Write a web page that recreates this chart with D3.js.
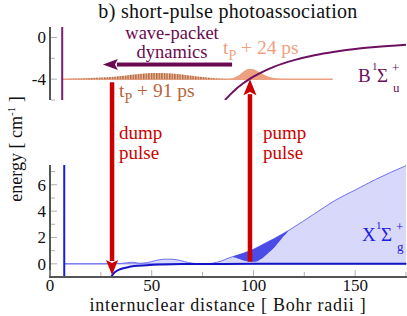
<!DOCTYPE html>
<html lang="en">
<head>
    <meta charset="UTF-8">
    <title>short-pulse photoassociation</title>
    <script src="https://d3js.org/d3.v7.min.js"></script>
</head>
<style>
    body {
        margin: 0;
        padding: 0;
        background: #fff;
    }

    svg {
        display: block;
        font-family: "Liberation Serif", "DejaVu Serif", serif;
    }

    .axis-line {
        stroke: #555;
        stroke-width: 2px;
        fill: none;
    }

    .tick-mark {
        stroke: #b0b0b0;
        stroke-width: 1px;
    }
</style>
<body>
<div class="chart"></div>
<script>
  /** DATA: distance in Bohr radii, energy in cm^-1 */
  var xMajorTicks = [0, 50, 100, 150];
  var xMinorTicks = [25, 75, 125, 175];
  var topMajorTicks = [0, -4];
  var topMinorTicks = [-2, -6];
  var bottomMajorTicks = [0, 2, 4, 6];
  var bottomMinorTicks = [1, 3, 5, 7];

  // B state potential (upper panel)
  var excitedPotential = [[86, -6], [88, -5.6], [90, -5.2], [95, -4.4], [98, -4.0], [100, -3.76],
    [105, -3.25], [110, -2.82], [120, -2.18], [130, -1.71], [140, -1.37], [150, -1.11],
    [160, -0.92], [175, -0.7]];
  var excitedWallR = 6;
  var packetLevel = -4;
  var packetLineEnd = 139;

  // packet at t_P + 24 ps (energy above the -4 level)
  var packet24 = [[86, 0], [90, 0.12], [93, 0.4], [96, 0.85], [98, 1.0], [100, 0.95], [103, 0.65],
    [106, 0.35], [110, 0.12], [115, 0.02], [120, 0]];
  // envelope of the fast oscillating packet at t_P + 91 ps
  var packet91 = [[6, 0], [15, 0.05], [25, 0.15], [30, 0.2], [35, 0.3], [40, 0.42], [45, 0.52],
    [50, 0.58], [55, 0.6], [60, 0.55], [65, 0.45], [70, 0.32], [75, 0.2], [80, 0.1],
    [85, 0.03], [88, 0]];

  // X state (lower panel)
  var groundWallR = 7;
  var groundPotential = [[30, -1], [31, -0.78], [32, -0.62], [34, -0.44], [36, -0.33], [39, -0.23],
    [43, -0.15], [49, -0.08], [55, -0.05], [65, -0.02], [80, -0.01], [100, 0], [175, 0]];
  // thin outline of the light shaded region
  var groundOutline = [[7, 0], [30, 0], [32, 0.08], [34, 0.02], [36, 0.05], [38, 0.08], [41, 0.12],
    [44, 0.04], [48, 0.1], [52, 0.25], [56, 0.35], [60, 0.35], [64, 0.25], [68, 0.1], [72, 0.02],
    [76, 0], [80, 0.05], [84, 0.2], [88, 0.45], [90, 0.55], [95, 0.8], [100, 1.1], [105, 1.5],
    [110, 1.9], [118, 2.6], [130, 3.8], [140, 4.8], [150, 5.6], [160, 6.4], [175, 7.45]];
  // dark lobe: upper edge follows the outline, lower edge dips under the pump arrow
  var lobeUpper = [[90, 0.55], [95, 0.8], [100, 1.1], [105, 1.5], [110, 1.9], [117, 2.5]];
  var lobeLower = [[90, 0.55], [92, 0.42], [95, 0.26], [98, 0.16], [100, 0.15], [102, 0.2],
    [105, 0.5], [110, 1.2], [114, 1.95], [117, 2.5]];

  // arrows: R and energy of start and end
  var dumpR = 30.5, dumpFrom = -4.3, dumpTo = -0.85;
  var pumpR = 98.3, pumpFrom = 0.17, pumpTo = -4;
  var dynamicsFrom = 89.5, dynamicsTo = 26, dynamicsE = -2.6;

  /** LAYOUT */
  var width = 407, height = 316;
  var svg = d3.select('.chart').append('svg')
    .attr('width', width)
    .attr('height', height);

  var x = d3.scaleLinear().domain([0, 175]).range([50, 406]);
  var yTop = d3.scaleLinear().domain([-6, 1]).range([100, 27]);
  var yBot = d3.scaleLinear().domain([-1, 7.5]).range([277, 165]);

  var defs = svg.append('defs');
  defs.append('clipPath').attr('id', 'clipTop')
    .append('rect').attr('x', 50).attr('y', 27).attr('width', 357).attr('height', 73);
  defs.append('clipPath').attr('id', 'clipBot')
    .append('rect').attr('x', 50).attr('y', 165).attr('width', 357).attr('height', 112);
  var stripes = defs.append('pattern').attr('id', 'stripes')
    .attr('patternUnits', 'userSpaceOnUse').attr('width', 2.6).attr('height', 10);
  stripes.append('rect').attr('width', 2.6).attr('height', 10).attr('fill', '#e9c3ad');
  stripes.append('rect').attr('width', 1.4).attr('height', 10).attr('fill', '#b5653a');

  var lineOf = function (yScale, curve) {
    return d3.line().curve(curve)
      .x(function (d) { return x(d[0]); })
      .y(function (d) { return yScale(d[1]); });
  };

  /** TOP PANEL */
  var topG = svg.append('g').attr('clip-path', 'url(#clipTop)');

  topG.append('line')
    .attr('x1', x(excitedWallR)).attr('x2', x(packetLineEnd))
    .attr('y1', yTop(packetLevel)).attr('y2', yTop(packetLevel))
    .attr('stroke', '#eba283').attr('stroke-width', 1.5);

  var packetArea = d3.area().curve(d3.curveMonotoneX)
    .x(function (d) { return x(d[0]); })
    .y0(yTop(packetLevel))
    .y1(function (d) { return yTop(packetLevel + d[1]); });

  topG.append('path').datum(packet91)
    .attr('d', packetArea)
    .attr('fill', 'url(#stripes)');

  topG.append('path').datum(packet24)
    .attr('d', packetArea)
    .attr('fill', '#eda080');

  topG.append('line')
    .attr('x1', x(excitedWallR)).attr('x2', x(excitedWallR))
    .attr('y1', 27).attr('y2', 100)
    .attr('stroke', '#7d1d6d').attr('stroke-width', 2);

  topG.append('path').datum(excitedPotential)
    .attr('d', lineOf(yTop, d3.curveMonotoneX))
    .attr('fill', 'none').attr('stroke', '#6e1060').attr('stroke-width', 2);

  /** BOTTOM PANEL */
  var botG = svg.append('g').attr('clip-path', 'url(#clipBot)');

  botG.append('path').datum(groundOutline)
    .attr('d', d3.area().curve(d3.curveMonotoneX)
      .x(function (d) { return x(d[0]); })
      .y0(yBot(0))
      .y1(function (d) { return yBot(d[1]); }))
    .attr('fill', '#d8d8fa');

  botG.append('line')
    .attr('x1', x(groundWallR)).attr('x2', 407)
    .attr('y1', yBot(0)).attr('y2', yBot(0))
    .attr('stroke', '#7a7af0').attr('stroke-width', 1);

  botG.append('path').datum(groundOutline)
    .attr('d', lineOf(yBot, d3.curveMonotoneX))
    .attr('fill', 'none').attr('stroke', '#7070f0').attr('stroke-width', 1);

  var lobe = lobeUpper.concat(lobeLower.slice(1, -1).reverse());
  botG.append('path').datum(lobe)
    .attr('d', lineOf(yBot, d3.curveCardinalClosed.tension(0.3)))
    .attr('fill', '#4b4be6');

  botG.append('path').datum(groundPotential)
    .attr('d', lineOf(yBot, d3.curveMonotoneX))
    .attr('fill', 'none').attr('stroke', '#1515c8').attr('stroke-width', 2);

  botG.append('line')
    .attr('x1', x(groundWallR)).attr('x2', x(groundWallR))
    .attr('y1', 165).attr('y2', 277)
    .attr('stroke', '#1a1ae6').attr('stroke-width', 2);

  /** AXES */
  function drawYAxis(scale, major, minor, y0, y1) {
    minor.forEach(function (t) {
      svg.append('line').classed('tick-mark', true)
        .attr('x1', 51).attr('x2', 55).attr('y1', scale(t)).attr('y2', scale(t));
    });
    major.forEach(function (t) {
      svg.append('line').classed('tick-mark', true)
        .attr('x1', 51).attr('x2', 57).attr('y1', scale(t)).attr('y2', scale(t));
      svg.append('text')
        .attr('x', 46).attr('y', scale(t)).attr('dy', '0.35em')
        .attr('text-anchor', 'end').attr('font-size', 17).attr('fill', '#111')
        .text(t);
    });
    svg.append('line').classed('axis-line', true)
      .attr('x1', 50).attr('x2', 50).attr('y1', y0).attr('y2', y1);
  }
  drawYAxis(yTop, topMajorTicks, topMinorTicks, 27, 100);
  drawYAxis(yBot, bottomMajorTicks, bottomMinorTicks, 165, 278);

  xMinorTicks.forEach(function (t) {
    svg.append('line').classed('tick-mark', true)
      .attr('x1', x(t)).attr('x2', x(t)).attr('y1', 276).attr('y2', 272);
  });
  xMajorTicks.forEach(function (t) {
    svg.append('line').classed('tick-mark', true)
      .attr('x1', x(t)).attr('x2', x(t)).attr('y1', 276).attr('y2', 270);
    svg.append('text')
      .attr('x', x(t)).attr('y', 291)
      .attr('text-anchor', 'middle').attr('font-size', 17).attr('fill', '#111')
      .text(t);
  });
  svg.append('line').classed('axis-line', true)
    .attr('x1', 49).attr('x2', 407).attr('y1', 277).attr('y2', 277);

  /** ARROWS */
  function arrow(x1, y1, x2, y2, color, bar, headW, headL) {
    var angle = Math.atan2(y2 - y1, x2 - x1);
    var len = Math.hypot(x2 - x1, y2 - y1);
    var g = svg.append('g')
      .attr('transform', 'translate(' + x1 + ',' + y1 + ') rotate(' + (angle * 180 / Math.PI) + ')');
    g.append('rect')
      .attr('x', 0).attr('y', -bar / 2).attr('width', len - headL + 1).attr('height', bar)
      .attr('fill', color);
    g.append('path')
      .attr('d', 'M' + len + ',0 L' + (len - headL) + ',' + (-headW / 2) + ' L' + (len - headL * 0.8) + ',0 L' +
        (len - headL) + ',' + (headW / 2) + ' Z')
      .attr('fill', color);
  }
  arrow(x(dumpR), yTop(dumpFrom), x(dumpR), yBot(dumpTo), '#cc0000', 4.5, 12, 15);
  arrow(x(pumpR), yBot(pumpFrom), x(pumpR), yTop(pumpTo), '#cc0000', 4.5, 13, 16);
  arrow(x(dynamicsFrom), yTop(dynamicsE), x(dynamicsTo), yTop(dynamicsE), '#6a0a50', 4, 11, 15);

  /** TEXT */
  svg.append('text')
    .attr('x', 228).attr('y', 18).attr('text-anchor', 'middle')
    .attr('font-size', 20).attr('letter-spacing', 0.3).attr('fill', '#111')
    .text('b) short-pulse photoassociation');

  svg.append('text')
    .attr('x', 228).attr('y', 311).attr('text-anchor', 'middle')
    .attr('font-size', 18).attr('letter-spacing', 0.8).attr('fill', '#111')
    .text('internuclear distance [ Bohr radii ]');

  var yLabel = svg.append('text')
    .attr('transform', 'translate(22,149) rotate(-90)')
    .attr('text-anchor', 'middle').attr('font-size', 18).attr('fill', '#111');
  yLabel.append('tspan').text('energy [ cm');
  yLabel.append('tspan').attr('dy', -7).attr('font-size', 11).text('-1');
  yLabel.append('tspan').attr('dy', 7).text(' ]');

  var purple = '#6a0a50';
  svg.append('text').attr('x', 172).attr('y', 39).attr('text-anchor', 'middle')
    .attr('font-size', 18.5).attr('fill', purple).text('wave-packet');
  svg.append('text').attr('x', 172).attr('y', 58).attr('text-anchor', 'middle')
    .attr('font-size', 18.5).attr('fill', purple).text('dynamics');

  function timeLabel(tx, ty, rest, color) {
    var t = svg.append('text').attr('x', tx).attr('y', ty)
      .attr('font-size', 19.5).attr('fill', color);
    t.append('tspan').text('t');
    t.append('tspan').attr('dy', 6).attr('font-size', 14).text('P');
    t.append('tspan').attr('dy', -6).text(' ' + rest);
  }
  timeLabel(223, 54, '+ 24 ps', '#f0a080');
  timeLabel(119, 97, '+ 91 ps', '#b5653a');

  var red = '#cc0000';
  [['dump', 119], ['pump', 263]].forEach(function (p) {
    svg.append('text').attr('x', p[1]).attr('y', 139)
      .attr('font-size', 19).attr('fill', red).text(p[0]);
    svg.append('text').attr('x', p[1]).attr('y', 159)
      .attr('font-size', 19).attr('fill', red).text('pulse');
  });

  function stateLabel(lx, ly, letter, sub, color) {
    var g = svg.append('g').attr('fill', color);
    g.append('text').attr('x', lx).attr('y', ly).attr('font-size', 19).text(letter);
    g.append('text').attr('x', lx + 14).attr('y', ly - 12).attr('font-size', 11).text('1');
    g.append('text').attr('x', lx + 19).attr('y', ly).attr('font-size', 19).text('Σ');
    g.append('text').attr('x', lx + 34).attr('y', ly - 10).attr('font-size', 13).text('+');
    g.append('text').attr('x', lx + 35).attr('y', ly + 10).attr('font-size', 13).text(sub);
  }
  stateLabel(358, 82, 'B', 'u', '#6e1060');
  stateLabel(362, 241, 'X', 'g', '#2020e0');
</script>
</body>
</html>
